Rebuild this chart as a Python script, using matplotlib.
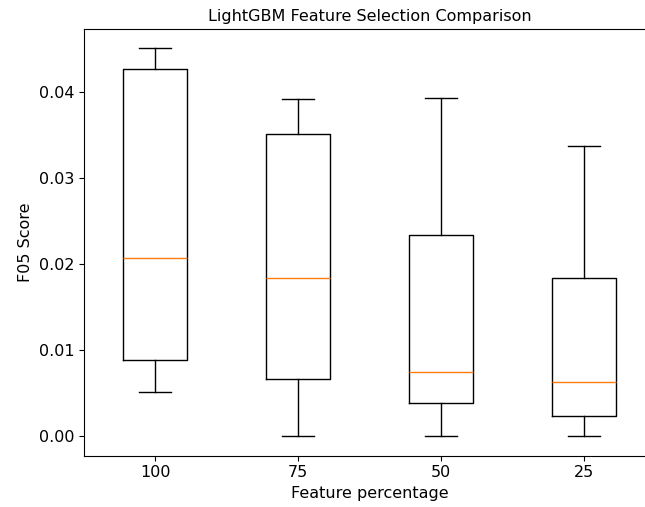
import matplotlib
matplotlib.use("Agg")
import matplotlib.pyplot as plt

# valeurs (une boite par pourcentage de features)
labels = ["100", "75", "50", "25"]
whisker_bas = [0.00511, 0.0, 0.0, 0.0]
q1 = [0.00887, 0.00670, 0.00380, 0.00232]
mediane = [0.02067, 0.01840, 0.00743, 0.00632]
q3 = [0.04267, 0.03519, 0.02339, 0.01835]
whisker_haut = [0.04511, 0.03919, 0.0393, 0.03373]

plt.rcParams["font.size"] = 11.5


def tracer():
    stats = []
    for i in range(len(labels)):
        stats.append({
            "label": labels[i],
            "whislo": whisker_bas[i],
            "q1": q1[i],
            "med": mediane[i],
            "q3": q3[i],
            "whishi": whisker_haut[i],
            "fliers": [],
        })

    fig = plt.figure(figsize=(6.45, 5.07), dpi=100)
    ax = fig.add_axes([84 / 645, 51.5 / 507, 571 / 645, 426.5 / 507])
    ax.bxp(stats, showfliers=False)
    ax.set_xlim(0.5, 4.5)
    ax.set_title("LightGBM Feature Selection Comparison", fontsize=11.5)
    ax.set_xlabel("Feature percentage")
    ax.set_ylabel("F05 Score")
    fig.savefig("out.png", dpi=100)
    plt.close(fig)


if __name__ == "__main__":
    tracer()
